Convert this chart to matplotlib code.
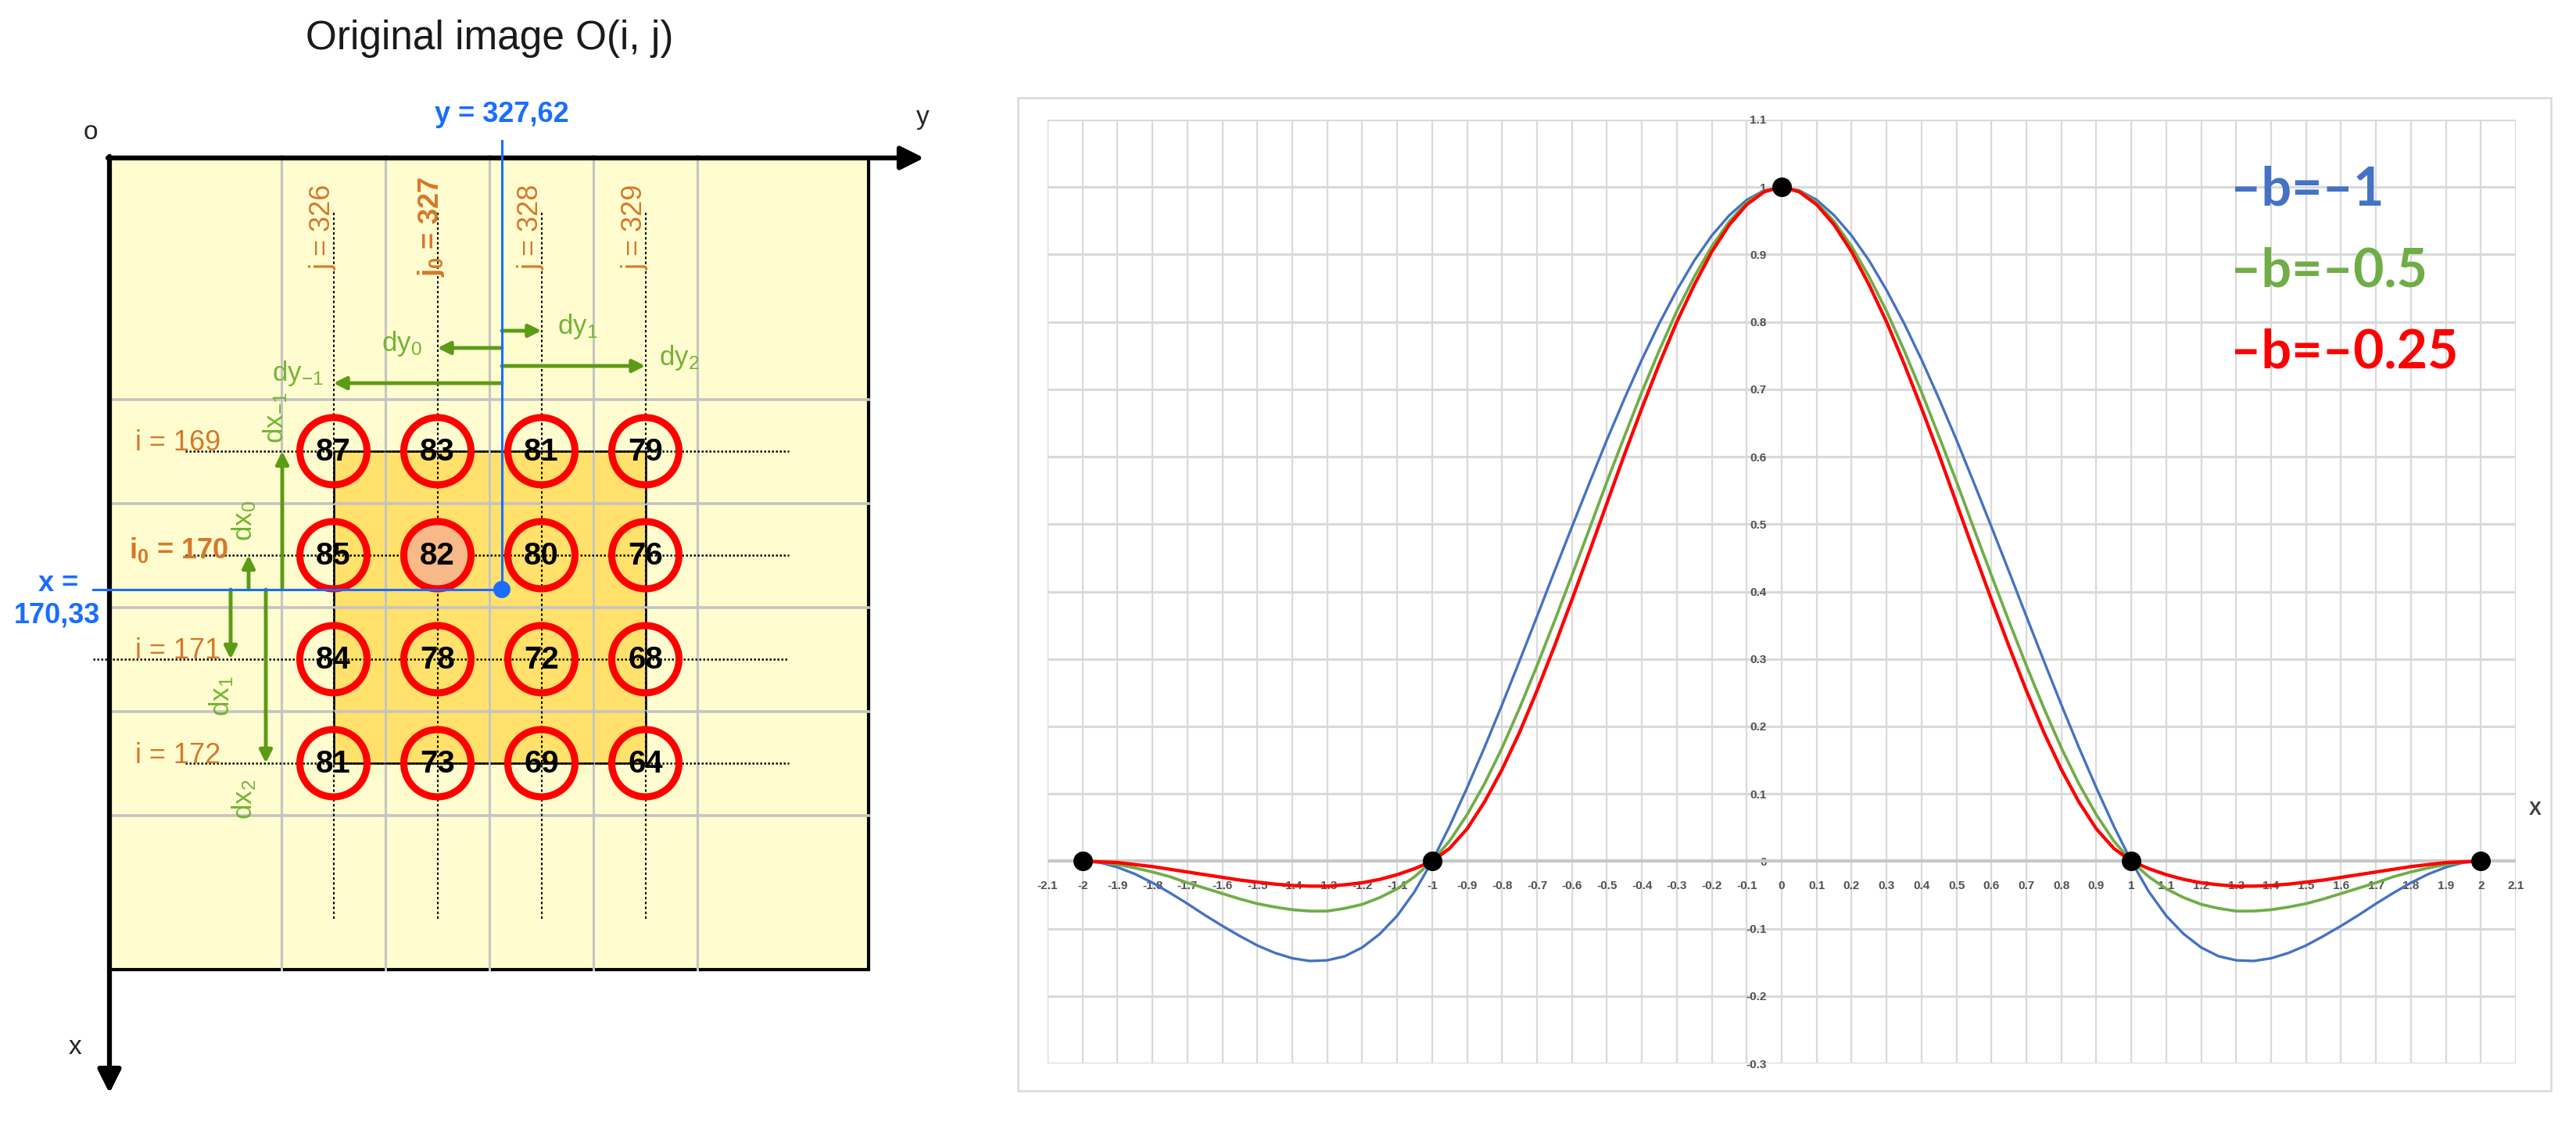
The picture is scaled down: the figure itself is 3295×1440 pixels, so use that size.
import numpy as np
import matplotlib
matplotlib.use("Agg")
import matplotlib.pyplot as plt
from matplotlib.patches import Rectangle, Circle
from matplotlib.ticker import FixedLocator, FuncFormatter

plt.rcParams["font.family"] = ["Liberation Sans", "DejaVu Sans"]
plt.rcParams["mathtext.fontset"] = "custom"
plt.rcParams["mathtext.rm"] = "Liberation Sans"
plt.rcParams["mathtext.it"] = "Liberation Sans:italic"
plt.rcParams["mathtext.bf"] = "Liberation Sans:bold"
plt.rcParams["axes.unicode_minus"] = False

# ---- left panel data: 4x4 neighbourhood of the original image ----
ROWS = [169, 170, 171, 172]
COLS = [326, 327, 328, 329]
PIXELS = [
    [87, 83, 81, 79],
    [85, 82, 80, 76],
    [84, 78, 72, 68],
    [81, 73, 69, 64],
]
I0, J0 = 170, 327
X_POS, Y_POS = 170.33, 327.62

# ---- right panel data: interpolation kernel for three b values ----
B_VALUES = [-1, -0.5, -0.25]
X_SAMPLES = np.round(np.arange(-40, 41) * 0.05, 2)
KERNEL_B1 = [
    0.000, -0.002, -0.009, -0.019, -0.032, -0.047, -0.063, -0.080, -0.096, -0.111,
    -0.125, -0.136, -0.144, -0.148, -0.147, -0.141, -0.128, -0.108, -0.081, -0.045,
    0.000, 0.052, 0.109, 0.169, 0.232, 0.297, 0.363, 0.430, 0.496, 0.561,
    0.625, 0.686, 0.744, 0.798, 0.847, 0.891, 0.928, 0.958, 0.981, 0.995,
    1.000,
    0.995, 0.981, 0.958, 0.928, 0.891, 0.847, 0.798, 0.744, 0.686, 0.625,
    0.561, 0.496, 0.430, 0.363, 0.297, 0.232, 0.169, 0.109, 0.052, 0.000,
    -0.045, -0.081, -0.108, -0.128, -0.141, -0.147, -0.148, -0.144, -0.136, -0.125,
    -0.111, -0.096, -0.080, -0.063, -0.047, -0.032, -0.019, -0.009, -0.002, 0.000,
]
KERNEL_B05 = [
    0.000, -0.001, -0.005, -0.010, -0.016, -0.023, -0.032, -0.040, -0.048, -0.056,
    -0.063, -0.068, -0.072, -0.074, -0.074, -0.070, -0.064, -0.054, -0.041, -0.023,
    0.000, 0.030, 0.069, 0.115, 0.168, 0.227, 0.290, 0.356, 0.424, 0.493,
    0.563, 0.630, 0.696, 0.758, 0.816, 0.867, 0.912, 0.949, 0.977, 0.994,
    1.000,
    0.994, 0.977, 0.949, 0.912, 0.867, 0.816, 0.758, 0.696, 0.630, 0.563,
    0.493, 0.424, 0.356, 0.290, 0.227, 0.168, 0.115, 0.069, 0.030, 0.000,
    -0.023, -0.041, -0.054, -0.064, -0.070, -0.074, -0.074, -0.072, -0.068, -0.063,
    -0.056, -0.048, -0.040, -0.032, -0.023, -0.016, -0.010, -0.005, -0.001, 0.000,
]
KERNEL_B025 = [
    0.000, -0.001, -0.002, -0.005, -0.008, -0.012, -0.016, -0.020, -0.024, -0.028,
    -0.031, -0.034, -0.036, -0.037, -0.037, -0.035, -0.032, -0.027, -0.020, -0.011,
    0.000, 0.019, 0.048, 0.088, 0.136, 0.191, 0.253, 0.319, 0.388, 0.459,
    0.531, 0.603, 0.672, 0.738, 0.800, 0.855, 0.904, 0.944, 0.974, 0.993,
    1.000,
    0.993, 0.974, 0.944, 0.904, 0.855, 0.800, 0.738, 0.672, 0.603, 0.531,
    0.459, 0.388, 0.319, 0.253, 0.191, 0.136, 0.088, 0.048, 0.019, 0.000,
    -0.011, -0.020, -0.027, -0.032, -0.035, -0.037, -0.037, -0.036, -0.034, -0.031,
    -0.028, -0.024, -0.020, -0.016, -0.012, -0.008, -0.005, -0.002, -0.001, 0.000,
]
KNOT_X = [-2, -1, 0, 1, 2]
KNOT_Y = [0, 0, 1, 0, 0]

CURVE_COLORS = ["#4472C4", "#70AD47", "#FF0000"]
CURVE_LW = [2.4, 2.7, 3.1]

W, H = 3295, 1440
ORANGE = "#D5782A"
GREEN = "#5B9B15"
GREEN_TXT = "#74B336"
BLUE = "#1A6DFF"

# diagram layout (pixels)
CELL = 133
COL0_X, ROW0_Y = 426.5, 577


def colx(j):
    return COL0_X + (j - COLS[0]) * CELL


def rowy(i):
    return ROW0_Y + (i - ROWS[0]) * CELL


fig = plt.figure(figsize=(W / 100, H / 100), dpi=100)
ax0 = fig.add_axes([0, 0, 1, 1])
ax0.set_xlim(0, W)
ax0.set_ylim(H, 0)
ax0.axis("off")

# ---------------- left panel ----------------
ax0.text(626, 50, "Original image O(i, j)", fontsize=37, ha="center", va="center", color="#1a1a1a")

box_l, box_t, box_r, box_b = 140, 202, 1111, 1240
ax0.add_patch(Rectangle((box_l, box_t), box_r - box_l, box_b - box_t,
                        fc="#FFFDD0", ec="black", lw=3, zorder=1))

# inner 4x4 neighbourhood
ax0.add_patch(Rectangle((colx(COLS[0]), rowy(ROWS[0])), 3 * CELL, 3 * CELL,
                        fc="#FFE16B", ec="black", lw=1.8, zorder=2))

for j in COLS + [COLS[-1] + 1]:
    ax0.plot([colx(j - 0.5)] * 2, [box_t - 3, box_b], color="#C4C4C4", lw=2.2, zorder=3)
for i in ROWS + [ROWS[-1] + 1]:
    ax0.plot([box_l, box_r], [rowy(i - 0.5)] * 2, color="#C4C4C4", lw=2.6, zorder=3)

# dotted guide lines through pixel centres
for i in ROWS:
    x_start = 119 if i == 171 else 237
    ax0.plot([x_start, 1009], [rowy(i)] * 2, color="black", lw=1.8, ls=(0, (1, 1)), zorder=4)
for j in COLS:
    ax0.plot([colx(j)] * 2, [272, 1175], color="black", lw=1.5, ls=(0, (1.5, 1.5)), zorder=4)

# axes arrows
ax0.annotate("", xy=(1182, box_t), xytext=(box_l - 2, box_t),
             arrowprops=dict(arrowstyle="-|>", color="black", lw=4.5, mutation_scale=45,
                             shrinkA=0, shrinkB=0), zorder=6)
ax0.annotate("", xy=(box_l, 1398), xytext=(box_l, box_t - 2),
             arrowprops=dict(arrowstyle="-|>", color="black", lw=4.5, mutation_scale=45,
                             shrinkA=0, shrinkB=0), zorder=6)
ax0.text(116, 170, "o", fontsize=24, ha="center", va="center", color="#262626")
ax0.text(1180, 150, "y", fontsize=24, ha="center", va="center", color="#262626")
ax0.text(96, 1340, "x", fontsize=24, ha="center", va="center", color="#262626")

# pixel circles and values
for r, i in enumerate(ROWS):
    for c, j in enumerate(COLS):
        fc = "#F7B987" if (i == I0 and j == J0) else "none"
        ax0.add_patch(Circle((colx(j), rowy(i)), 43, fc=fc, ec="#FF0000", lw=6.5, zorder=7))
        ax0.text(colx(j), rowy(i) + 1, str(PIXELS[r][c]), fontsize=29, fontweight="bold",
                 ha="center", va="center", color="black", zorder=8)

# row labels
for i in ROWS:
    if i == I0:
        ax0.text(165, rowy(i) - 6, r"$\mathbf{i_0}$ = %d" % i, fontsize=26, fontweight="bold",
                 ha="left", va="center", color=ORANGE, zorder=9)
    else:
        ax0.text(173, rowy(i) - 10, f"i = {i}", fontsize=26, ha="left", va="center",
                 color=ORANGE, zorder=9)

# column labels (rotated)
for j in COLS:
    if j == J0:
        ax0.text(colx(j) - 8, 290, r"$\mathbf{j_0}$ = %d" % j, fontsize=26, fontweight="bold",
                 rotation=90, ha="center", va="center", color=ORANGE, zorder=9)
    else:
        ax0.text(colx(j) - 13, 290, f"j = {j}", fontsize=26, rotation=90,
                 ha="center", va="center", color=ORANGE, zorder=9)

# target point (x, y)
bx, by = colx(Y_POS), rowy(X_POS)
ax0.plot([bx, bx], [180, by], color=BLUE, lw=2.2, zorder=10)
ax0.plot([119, bx], [by, by], color=BLUE, lw=2.2, zorder=10)
ax0.add_patch(Circle((bx, by), 11, fc=BLUE, ec="none", zorder=11))
ax0.text(bx, 147, "y = " + f"{Y_POS:.2f}".replace(".", ","), fontsize=26, fontweight="bold",
         ha="center", va="center", color=BLUE)
ax0.text(75, by - 7, "x =", fontsize=26, fontweight="bold", ha="center", va="center", color=BLUE)
ax0.text(73, by + 33, f"{X_POS:.2f}".replace(".", ","), fontsize=26, fontweight="bold",
         ha="center", va="center", color=BLUE)


def green_arrow(x0, y0, x1, y1):
    ax0.annotate("", xy=(x1, y1), xytext=(x0, y0),
                 arrowprops=dict(arrowstyle="-|>", color=GREEN, lw=3.5, mutation_scale=24,
                                 shrinkA=0, shrinkB=0), zorder=9)


# dy distances (horizontal)
dy_specs = [(COLS[2], 423, "dy$_1$", 20, 417, "left"),
            (COLS[1], 445, "dy$_0$", -20, 440, "right"),
            (COLS[3], 468, "dy$_2$", 17, 457, "left"),
            (COLS[0], 490, "dy$_{-1}$", -13, 478, "right")]
for j, yy, lab, dx, ly, ha in dy_specs:
    green_arrow(bx, yy, colx(j), yy)
    ax0.text(colx(j) + dx, ly, lab, fontsize=25, ha=ha, va="center", color=GREEN_TXT, zorder=9)

# dx distances (vertical)
dx_specs = [(ROWS[0], 361, "dx$_{-1}$", 352, -43),
            (ROWS[1], 318, "dx$_0$", 312, -44),
            (ROWS[2], 295, "dx$_1$", 283, 47),
            (ROWS[3], 340, "dx$_2$", 312, 46)]
for i, xx, lab, lx, off in dx_specs:
    green_arrow(xx, by, xx, rowy(i))
    ax0.text(lx, rowy(i) + off, lab, fontsize=25, rotation=90, ha="center", va="center",
             color=GREEN_TXT, zorder=9)

# ---------------- right panel ----------------
ax0.add_patch(Rectangle((1302, 125), 3263 - 1302, 1395 - 125, fc="white", ec="#D9D9D9", lw=1.8, zorder=0))

pl, pr, pt, pb = 1340, 3218, 153, 1360
ax1 = fig.add_axes([pl / W, 1 - pb / H, (pr - pl) / W, (pb - pt) / H])
ax1.set_facecolor("none")
ax1.set_xlim(-2.1, 2.1)
ax1.set_ylim(-0.3, 1.1)
ax1.xaxis.set_major_locator(FixedLocator(np.round(np.arange(-21, 22) / 10, 1)))
ax1.yaxis.set_major_locator(FixedLocator(np.round(np.arange(-3, 12) / 10, 1)))


def tick_fmt(v, p):
    v = round(v, 1)
    return "0" if abs(v) < 1e-9 else f"{v:g}"


ax1.xaxis.set_major_formatter(FuncFormatter(tick_fmt))
ax1.yaxis.set_major_formatter(FuncFormatter(tick_fmt))
for s in ax1.spines.values():
    s.set_visible(False)
ax1.spines["left"].set_position(("data", 0))
ax1.spines["bottom"].set_position(("data", 0))
ax1.tick_params(length=0, labelsize=11, labelcolor="#505050")
ax1.tick_params(axis="x", pad=18)
ax1.tick_params(axis="y", pad=14)
for lab in ax1.get_xticklabels() + ax1.get_yticklabels():
    lab.set_fontweight("bold")
    lab.set_family(["Liberation Sans Narrow", "Liberation Sans", "DejaVu Sans"])
ax1.grid(axis="x", color="#D9D9D9", lw=1.6)
ax1.grid(axis="y", color="#D9D9D9", lw=2.2)
ax1.set_axisbelow(True)
ax1.axhline(0, color="#C8C8C8", lw=3, zorder=1)

for vals, col, lw in zip([KERNEL_B1, KERNEL_B05, KERNEL_B025], CURVE_COLORS, CURVE_LW):
    ax1.plot(X_SAMPLES, vals, color=col, lw=lw, zorder=3, solid_capstyle="round")
ax1.plot(KNOT_X, KNOT_Y, "o", color="black", ms=17, zorder=5, clip_on=False)

for k, (b, col) in enumerate(zip(B_VALUES, CURVE_COLORS)):
    fig.text(2853 / W, 1 - (243 + 104 * k) / H, f"\u2013b=\u2013{abs(b):g}", fontsize=49,
             fontweight="bold", family=["Lato", "DejaVu Sans"], color=col, ha="left", va="center")

fig.text(3243 / W, 1 - 1035 / H, "X", fontsize=17, fontweight="bold", color="#404040",
         ha="center", va="center")

fig.savefig("out.png", dpi=100, facecolor="white")
